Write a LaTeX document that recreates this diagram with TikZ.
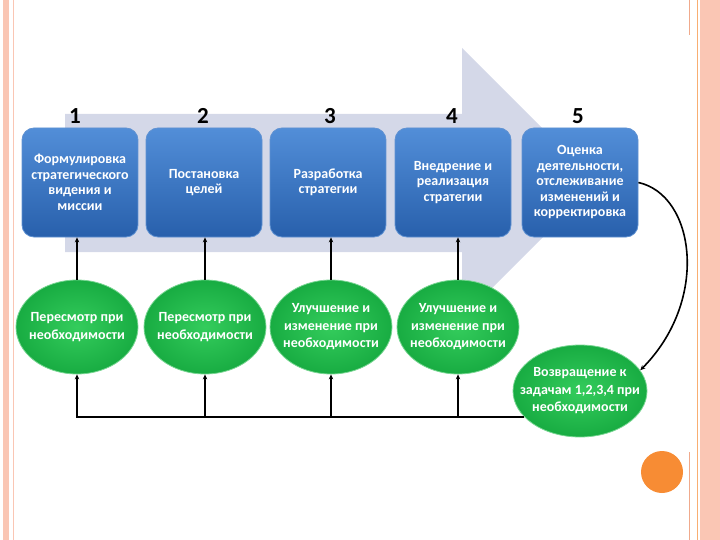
\documentclass[tikz,border=0pt]{standalone}
\usepackage{fontspec}
\setmainfont{Carlito}
\usetikzlibrary{shapes.geometric,arrows.meta}

\definecolor{slidepink}{RGB}{250,198,180}
\definecolor{slideline}{RGB}{240,170,140}
\definecolor{slideorange}{RGB}{247,140,52}
\definecolor{arrowgray}{RGB}{212,216,232}
\definecolor{boxtop}{RGB}{82,142,216}
\definecolor{boxbot}{RGB}{40,96,172}
\definecolor{boxedge}{RGB}{96,146,210}
\definecolor{ovalin}{RGB}{52,204,92}
\definecolor{ovalout}{RGB}{24,172,66}
\definecolor{ovaledge}{RGB}{120,214,146}

\begin{document}
\begin{tikzpicture}[x=1pt,y=-1pt,
  stepbox/.style={draw=boxedge, line width=0.8pt, rounded corners=12pt,
    minimum width=116pt, minimum height=109pt, inner sep=1pt,
    top color=boxtop, bottom color=boxbot,
    text=white, align=center, font=\bfseries\fontsize{14}{15.5}\selectfont},
  stepnum/.style={font=\bfseries\fontsize{23}{23}\selectfont, inner sep=0pt},
  oval/.style={ellipse, draw=ovaledge, line width=0.8pt,
    minimum width=122pt, minimum height=94pt, inner sep=0pt,
    inner color=ovalin, outer color=ovalout},
  ovaltext/.style={text=white, align=center, inner sep=0pt,
    font=\bfseries\fontsize{14}{17.5}\selectfont},
  link/.style={line width=1.6pt, -{Stealth[length=5pt,width=4.5pt]}}]

\useasboundingbox (0,0) rectangle (720,540);

%% slide frame
\fill[slidepink] (3,0) rectangle (9,540);
\draw[slidepink, thin] (13,0) -- (13,540);
\draw[slideline, thin] (689,0) -- (689,35);
\draw[slideline, thin] (689,452) -- (689,540);
\draw[slideorange!70!white, line width=1.2pt] (697.5,0) -- (697.5,540);
\fill[slidepink] (700,0) rectangle (720,540);
\fill[slideorange] (662,472) circle (21);

%% big background arrow
\fill[arrowgray] (65,114) -- (462,114) -- (462,48) -- (597,183)
  -- (462,318) -- (462,252) -- (65,252) -- cycle;

%% stages
\node[stepbox] (b1) at (80,182.5) {Формулировка\\стратегического\\видения и\\миссии};
\node[stepbox] (b2) at (204,182.5) {Постановка\\целей};
\node[stepbox] (b3) at (328,182.5) {Разработка\\стратегии};
\node[stepbox] (b4) at (453,182.5) {Внедрение и\\реализация\\стратегии};
\node[stepbox] (b5) at (580,182.5) {Оценка\\деятельности,\\отслеживание\\изменений и\\корректировка};

\node[stepnum, anchor=south] (n1) at (75,124) {1};
\node[stepnum, anchor=south] (n2) at (203,124) {2};
\node[stepnum, anchor=south] (n3) at (330,124) {3};
\node[stepnum, anchor=south] (n4) at (452,124) {4};
\node[stepnum, anchor=south] (n5) at (578,124) {5};

%% feedback ovals
\node[oval, label={[ovaltext]center:Пересмотр при\\необходимости}] (e1) at (77,327) {};
\node[oval, label={[ovaltext]center:Пересмотр при\\необходимости}] (e2) at (205,327) {};
\node[oval, label={[ovaltext]center:Улучшение и\\изменение при\\необходимости}] (e3) at (331,327) {};
\node[oval, label={[ovaltext]center:Улучшение и\\изменение при\\необходимости}] (e4) at (458,327) {};
\node[oval, minimum width=134pt, minimum height=92pt,
  label={[ovaltext]center:Возвращение к\\задачам 1,2,3,4 при\\необходимости}] (e5) at (580,391) {};

%% ovals up to stages
\draw[link] (e1.north) -- (e1.north |- b1.south);
\draw[link] (e2.north) -- (e2.north |- b2.south);
\draw[link] (e3.north) -- (e3.north |- b3.south);
\draw[link] (e4.north) -- (e4.north |- b4.south);

%% return line
\draw[link] (b5.east) .. controls (695,195) and (710,300) .. (e5.19);
\draw[link] (e5.205) -| (e1.south);
\draw[link] (e2.south |- e5.205) -- (e2.south);
\draw[link] (e3.south |- e5.205) -- (e3.south);
\draw[link] (e4.south |- e5.205) -- (e4.south);

\end{tikzpicture}
\end{document}
